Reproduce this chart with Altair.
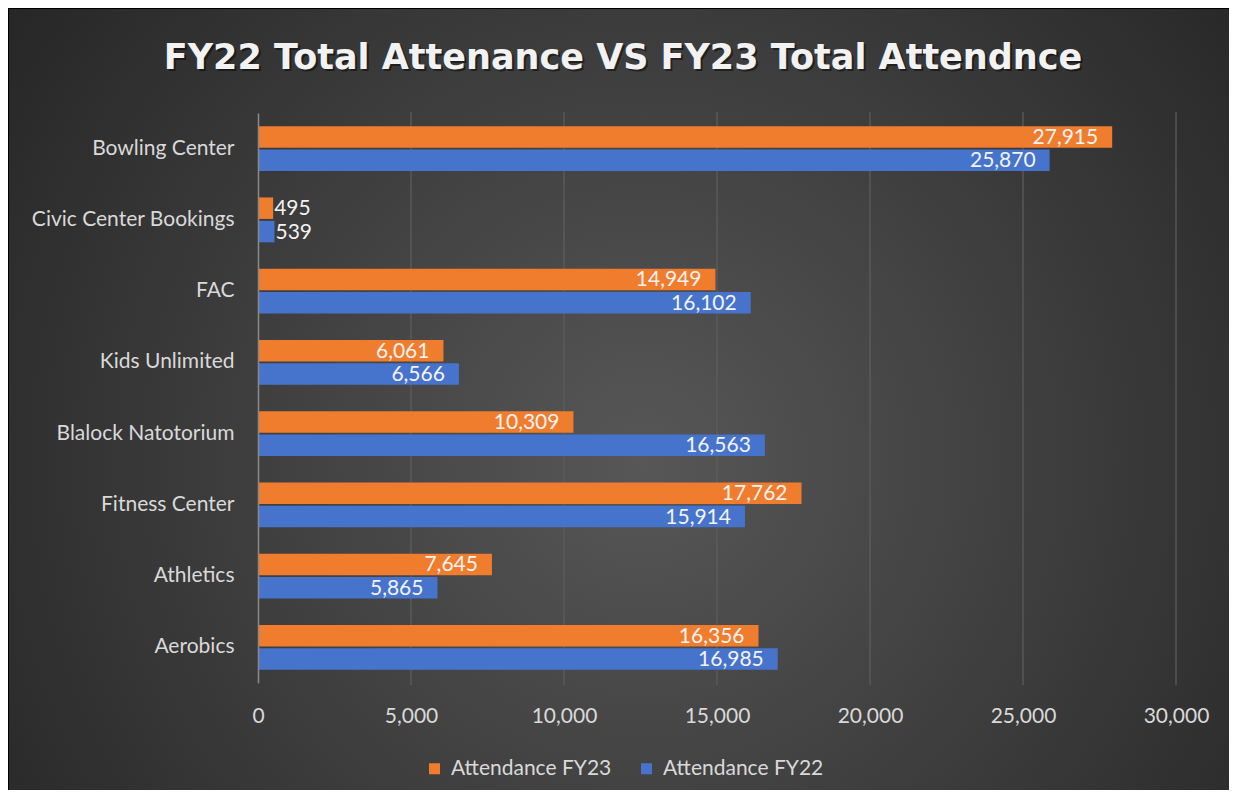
import altair as alt
import pandas as pd

categories = ["Bowling Center", "Civic Center Bookings", "FAC", "Kids Unlimited",
              "Blalock Natotorium", "Fitness Center", "Athletics", "Aerobics"]
fy23 = [27915, 495, 14949, 6061, 10309, 17762, 7645, 16356]
fy22 = [25870, 539, 16102, 6566, 16563, 15914, 5865, 16985]
series_names = ["Attendance FY23", "Attendance FY22"]
series_colors = ["#F07D2E", "#4674CC"]
x_ticks = [0, 5000, 10000, 15000, 20000, 25000, 30000]
title_text = "FY22 Total Attenance VS FY23 Total Attendnce"

rows = []
for c, a, b in zip(categories, fy23, fy22):
    rows.append({"category": c, "series": series_names[0], "value": a})
    rows.append({"category": c, "series": series_names[1], "value": b})
df = pd.DataFrame(rows)
ticks_df = pd.DataFrame({"value": x_ticks[1:]})

W, H = 918, 570
PAD = {"left": 250, "top": 105, "right": 53, "bottom": 107}

FONT = "Lato"
FS = 21
LABEL_COLOR = "#d9d9d9"

gradient = {
    "gradient": "radial",
    "x1": 0.52, "y1": 0.55, "r1": 0,
    "x2": 0.52, "y2": 0.55, "r2": 0.75,
    "stops": [
        {"offset": 0, "color": "#575757"},
        {"offset": 1, "color": "#1e1e1e"},
    ],
}

bg = alt.Chart(pd.DataFrame({"a": [0]})).mark_rect(fill=gradient).encode(
    x=alt.value(-PAD["left"] + 1),
    x2=alt.value(W + PAD["right"]),
    y=alt.value(-PAD["top"] + 1),
    y2=alt.value(H + PAD["bottom"]),
)

xscale = alt.Scale(domain=[0, 30000])
x_axis = alt.Axis(values=x_ticks, format=",.0f", labelFont=FONT, labelFontSize=FS,
                  labelColor=LABEL_COLOR, labelPadding=22, ticks=False,
                  domain=False, grid=False, zindex=1, labelFlush=False)
x_enc = alt.X("value:Q", title=None, scale=xscale, axis=x_axis)

grid = alt.Chart(ticks_df).mark_rule(color="#5e5e5e", strokeWidth=1.2).encode(
    x=x_enc,
    y=alt.value(-1),
    y2=alt.value(H + 2),
)

base = alt.Chart(df)

y_enc = alt.Y("category:N", sort=categories, title=None,
              scale=alt.Scale(paddingInner=0.37, paddingOuter=0.185),
              axis=alt.Axis(labelFont=FONT, labelFontSize=FS, labelColor=LABEL_COLOR,
                            labelPadding=24, ticks=False, domainColor="#8a8a8a",
                            domainWidth=1.5, grid=False, zindex=1, labelLimit=400))
yoff = alt.YOffset("series:N", sort=series_names,
                   scale=alt.Scale(paddingInner=0.08))

bars = base.mark_bar().encode(
    y=y_enc,
    yOffset=yoff,
    x=x_enc,
    color=alt.Color("series:N", sort=series_names,
                    scale=alt.Scale(domain=series_names, range=series_colors),
                    legend=alt.Legend(title=None, orient="none", direction="horizontal",
                                      legendX=166, legendY=645,
                                      labelFont=FONT, labelFontSize=FS,
                                      labelColor=LABEL_COLOR, symbolType="square",
                                      symbolSize=121, symbolStrokeWidth=0,
                                      labelOffset=6, columnPadding=24, padding=0,
                                      labelLimit=400, zindex=1)),
)

inside = base.transform_filter("datum.value >= 2000").mark_text(
    align="right", baseline="middle", dx=-14, dy=1, font=FONT, fontSize=FS,
    color="#f2f2f2"
).encode(
    y=alt.Y("category:N", sort=categories),
    yOffset=yoff,
    x=x_enc,
    text=alt.Text("value:Q", format=","),
)

outside = base.transform_filter("datum.value < 2000").mark_text(
    align="left", baseline="middle", dx=1, dy=1, font=FONT, fontSize=FS,
    color="#f2f2f2"
).encode(
    y=alt.Y("category:N", sort=categories),
    yOffset=yoff,
    x=x_enc,
    text=alt.Text("value:Q", format=","),
)

title_shadow = alt.Chart(pd.DataFrame({"a": [0]})).mark_text(
    align="center", baseline="middle", font="DejaVu Sans", fontWeight="bold",
    fontSize=35, color="#000000", opacity=0.45
).encode(
    x=alt.value(367),
    y=alt.value(-53),
    text=alt.value(title_text),
)

title = alt.Chart(pd.DataFrame({"a": [0]})).mark_text(
    align="center", baseline="middle", font="DejaVu Sans", fontWeight="bold",
    fontSize=35, color="#f2f2f2"
).encode(
    x=alt.value(365),
    y=alt.value(-55),
    text=alt.value(title_text),
)

chart = alt.layer(bg, grid, bars, inside, outside, title_shadow, title).properties(
    width=W, height=H, padding=PAD,
    autosize=alt.AutoSizeParams(type="none"),
    background="#000000",
).configure_view(strokeWidth=0)

chart.save("out.html", embed_options={"renderer": "svg", "actions": False})
